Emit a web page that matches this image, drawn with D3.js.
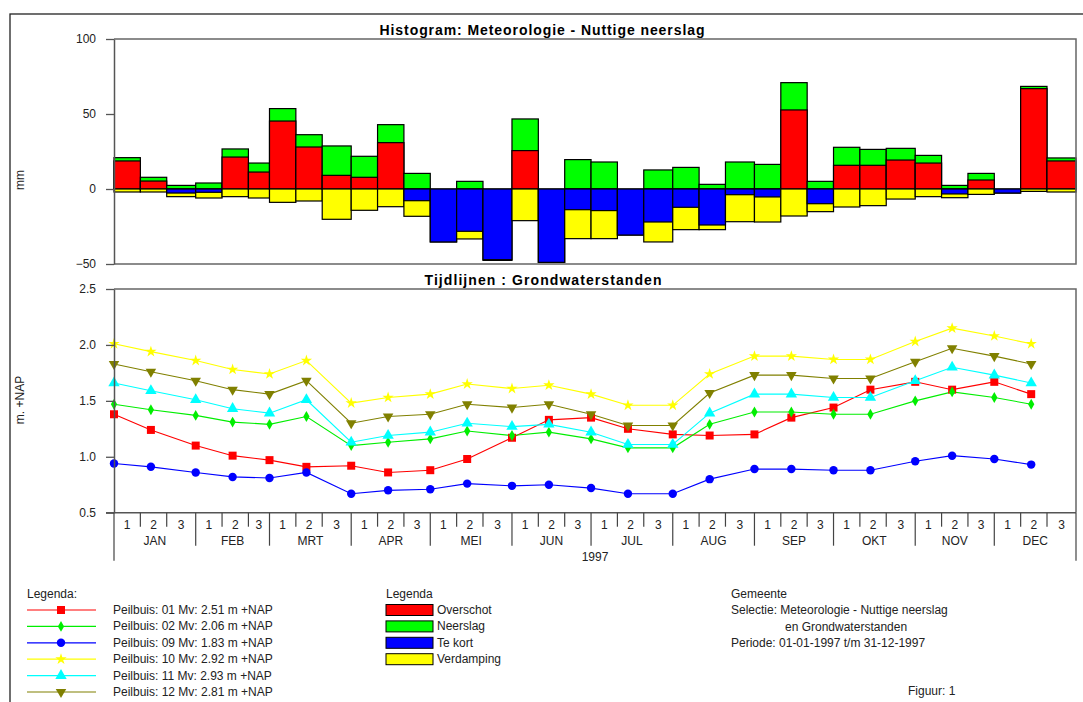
<!DOCTYPE html>
<html><head><meta charset="utf-8">
<script src="https://cdnjs.cloudflare.com/ajax/libs/d3/7.8.5/d3.min.js"></script>
<style>
body{margin:0;background:#fff}
svg{display:block;font-family:"Liberation Sans",Arial,sans-serif}
</style>
</head><body>
<svg id="c" width="1083" height="702"></svg>
<script>
// ---------- data ----------
const months = ["JAN","FEB","MRT","APR","MEI","JUN","JUL","AUG","SEP","OKT","NOV","DEC"];
const decadeLabels = ["1","2","3"];
const yearLabel = "1997";
const histTicks = [100, 50, 0, -50];
const levelTicks = [2.5, 2.0, 1.5, 1.0, 0.5];

// per decade (36): mm
const neerslag   = [20.9,7.8,2.4, 4.0,26.7,17.3, 53.6,36.2,28.7, 21.8,42.9,10.4, 0,5.1,0, 46.7,0,19.6, 18.0,0,12.7, 14.4,3.1,18.0, 16.4,70.9,5.1, 27.8,26.4,27.1, 22.4,2.4,10.4, 0,68.4,20.7];
const overschot  = [18.7,5.3,0, 0,21.3,11.3, 45.3,28.0,9.1, 7.8,30.9,0, 0,0,0, 25.6,0,0, 0,0,0, 0,0,0, 0,52.7,0, 15.8,15.8,19.3, 17.3,0,6.0, 0,66.9,18.7];
const tekort     = [0,0,2.7, 2.2,0,0, 0,0,0, 0,0,7.8, 35.3,28.2,47.1, 0,48.9,13.8, 14.4,30.7,22.0, 12.2,24.0,3.8, 5.3,0,9.8, 0,0,0, 0,3.3,0, 2.7,0,0];
const verdamping = [2.0,2.0,5.1, 6.0,5.1,6.0, 8.9,8.0,20.2, 14.2,11.8,18.2, 35.3,33.3,47.6, 21.1,48.9,33.1, 33.1,30.7,35.3, 27.1,27.1,21.8, 22.0,18.0,15.1, 12.0,11.1,6.7, 5.1,5.8,3.6, 2.7,1.6,2.0];

// groundwater levels, measured 1st and 15th of each month (24): m +NAP
const peilbuis01 = [1.38,1.24,1.10,1.01,0.97,0.91,0.92,0.86,0.88,0.98,1.17,1.33,1.35,1.25,1.20,1.19,1.20,1.35,1.44,1.60,1.67,1.60,1.67,1.56];
const peilbuis02 = [1.47,1.42,1.37,1.31,1.29,1.36,1.10,1.13,1.16,1.23,1.19,1.22,1.16,1.08,1.08,1.29,1.40,1.40,1.38,1.38,1.50,1.58,1.53,1.47];
const peilbuis09 = [0.94,0.91,0.86,0.82,0.81,0.86,0.67,0.70,0.71,0.76,0.74,0.75,0.72,0.67,0.67,0.80,0.89,0.89,0.88,0.88,0.96,1.01,0.98,0.93];
const peilbuis10 = [2.01,1.94,1.86,1.78,1.74,1.86,1.48,1.53,1.56,1.65,1.61,1.64,1.56,1.46,1.46,1.74,1.90,1.90,1.87,1.87,2.03,2.15,2.08,2.01];
const peilbuis11 = [1.66,1.59,1.51,1.43,1.39,1.51,1.13,1.19,1.22,1.30,1.27,1.29,1.22,1.11,1.11,1.39,1.56,1.56,1.53,1.53,1.68,1.80,1.73,1.66];
const peilbuis12 = [1.83,1.76,1.68,1.60,1.56,1.68,1.30,1.36,1.38,1.47,1.44,1.47,1.38,1.28,1.28,1.57,1.73,1.73,1.70,1.70,1.85,1.97,1.90,1.83];

const seriesLabels = ["Peilbuis: 01 Mv: 2.51 m +NAP","Peilbuis: 02 Mv: 2.06 m +NAP","Peilbuis: 09 Mv: 1.83 m +NAP","Peilbuis: 10 Mv: 2.92 m +NAP","Peilbuis: 11 Mv: 2.93 m +NAP","Peilbuis: 12 Mv: 2.81 m +NAP"];
const histLabels = ["Overschot","Neerslag","Te kort","Verdamping"];

// ---------- styling ----------
const seriesStyle = [
  {color:"#ff0000", sym:d3.symbolSquare, size:64, rot:0},
  {color:"#00ee00", sym:d3.symbolDiamond, size:34, rot:0},
  {color:"#0000ff", sym:d3.symbolCircle, size:56, rot:0},
  {color:"#ffff00", sym:d3.symbolStar, size:40, rot:0},
  {color:"#00ffff", sym:d3.symbolTriangle, size:56, rot:0},
  {color:"#808000", sym:d3.symbolTriangle, size:48, rot:180}
];
const histColors = {overschot:"#ff0000", neerslag:"#00ff00", tekort:"#0000ff", verdamping:"#ffff00"};

const svg = d3.select("#c");
svg.append("rect").attr("width",1083).attr("height",702).attr("fill","#fff");
// outer frame
svg.append("rect").attr("x",10).attr("y",14).attr("width",1200).attr("height",800)
  .attr("fill","none").attr("stroke","#222").attr("stroke-width",1.3);

const X0 = 114, X1 = 1076;
const x = d3.scaleTime().domain([new Date(1997,0,1), new Date(1998,0,1)]).range([X0, X1]);
const yH = d3.scaleLinear().domain([-50,100]).range([264,39]);
const yL = d3.scaleLinear().domain([0.5,2.5]).range([512.7,289]);

function decadeRange(i){
  const m = Math.floor(i/3), d = i%3;
  const s = new Date(1997, m, 1+10*d);
  const e = d<2 ? new Date(1997, m, 11+10*d) : new Date(1997, m+1, 1);
  return [s,e];
}
const decades = d3.range(36).map(i => {
  const [s,e] = decadeRange(i);
  return {i, s, e, n:neerslag[i], o:overschot[i], t:tekort[i], v:verdamping[i]};
});

// ---------- histogram ----------
const gH = svg.append("g");
function bar(d, v, color){
  if (!v) return;
  const y0 = yH(0), y1 = yH(v);
  gH.append("rect")
    .attr("x", x(d.s)).attr("width", x(d.e)-x(d.s))
    .attr("y", Math.min(y0,y1)).attr("height", Math.abs(y1-y0))
    .attr("fill", color).attr("stroke","#000").attr("stroke-width",1.2);
}
decades.forEach(d => {
  bar(d, d.n, histColors.neerslag);
  bar(d, d.o, histColors.overschot);
  bar(d, -d.v, histColors.verdamping);
  bar(d, -d.t, histColors.tekort);
});
// frame top chart
svg.append("path").attr("d",`M${X0},39H${X1}V264H${X0}`).attr("fill","none").attr("stroke","#666").attr("stroke-width",1.5);
const axH = svg.append("g").attr("transform",`translate(${X0},0)`)
  .call(d3.axisLeft(yH).tickValues(histTicks).tickSize(8).tickSizeOuter(0).tickPadding(10));
styleAxis(axH);

svg.append("text").attr("x",542).attr("y",35).attr("text-anchor","middle")
  .attr("font-size",14).attr("font-weight","bold").attr("textLength",325)
  .text("Histogram: Meteorologie - Nuttige neerslag");
svg.append("text").attr("transform","translate(24,180) rotate(-90)").attr("text-anchor","middle")
  .attr("font-size",12).attr("fill","#222").text("mm");

// ---------- line chart ----------
const dates = d3.range(24).map(j => new Date(1997, Math.floor(j/2), j%2 ? 15 : 1));
const series = [peilbuis01, peilbuis02, peilbuis09, peilbuis10, peilbuis11, peilbuis12];
svg.append("path").attr("d",`M${X0},289H${X1}V512.7`).attr("fill","none").attr("stroke","#666").attr("stroke-width",1.5);
const line = d3.line().x((v,j)=>x(dates[j])).y(v=>yL(v));
const gL = svg.append("g");
series.forEach((vals,k) => {
  const st = seriesStyle[k];
  gL.append("path").attr("d", line(vals)).attr("fill","none").attr("stroke",st.color).attr("stroke-width",1.1);
});
series.forEach((vals,k) => {
  const st = seriesStyle[k];
  const sym = d3.symbol().type(st.sym).size(st.size);
  gL.selectAll(null).data(vals).join("path")
    .attr("transform",(v,j)=>`translate(${x(dates[j])},${yL(v)}) rotate(${st.rot})`)
    .attr("d", sym).attr("fill", st.color);
});
const axL = svg.append("g").attr("transform",`translate(${X0},0)`)
  .call(d3.axisLeft(yL).tickValues(levelTicks).tickFormat(d3.format(".1f")).tickSize(8).tickSizeOuter(0).tickPadding(10));
styleAxis(axL);
svg.append("text").attr("x",543).attr("y",285).attr("text-anchor","middle")
  .attr("font-size",14).attr("font-weight","bold").attr("textLength",237)
  .text("Tijdlijnen : Grondwaterstanden");
svg.append("text").attr("transform","translate(24,400) rotate(-90)").attr("text-anchor","middle")
  .attr("font-size",12).attr("fill","#222").text("m. +NAP");

function styleAxis(g){
  g.select(".domain").attr("stroke","#555").attr("stroke-width",1.5);
  g.selectAll(".tick line").attr("stroke","#555").attr("stroke-width",1.3);
  g.selectAll(".tick text").attr("font-size",12).attr("fill","#222").attr("font-family","Liberation Sans, Arial, sans-serif");
}

// ---------- time axis ----------
const gX = svg.append("g").attr("stroke","#444").attr("stroke-width",1.2);
const yA = 512.7;
gX.append("line").attr("x1",X0-8).attr("x2",X1).attr("y1",yA).attr("y2",yA).attr("stroke","#555").attr("stroke-width",1.5);
decades.forEach(d => {
  const len = d.i===0 ? 48 : (d.i%3===0 ? 33 : 14);
  gX.append("line").attr("x1",x(d.s)).attr("x2",x(d.s)).attr("y1",yA).attr("y2",yA+len);
});
gX.append("line").attr("x1",X1).attr("x2",X1).attr("y1",yA).attr("y2",yA+48);
const gXt = svg.append("g").attr("font-size",12).attr("fill","#222").attr("text-anchor","middle");
decades.forEach(d => {
  gXt.append("text").attr("x",(x(d.s)+x(d.e))/2).attr("y",529).text(decadeLabels[d.i%3]);
});
months.forEach((m,k) => {
  const s = new Date(1997,k,1), e = new Date(1997,k+1,1);
  gXt.append("text").attr("x",(x(s)+x(e))/2).attr("y",545).text(m);
});
gXt.append("text").attr("x",(X0+X1)/2).attr("y",561).text(yearLabel);

// ---------- legends ----------
const gLeg = svg.append("g").attr("font-size",12).attr("fill","#222");
gLeg.append("text").attr("x",27).attr("y",598).text("Legenda:");
seriesLabels.forEach((lab,k) => {
  const st = seriesStyle[k];
  const yy = 610 + k*16.4;
  gLeg.append("line").attr("x1",27).attr("x2",96).attr("y1",yy).attr("y2",yy).attr("stroke",st.color).attr("stroke-width",1.2);
  gLeg.append("path").attr("transform",`translate(61,${yy}) rotate(${st.rot})`)
    .attr("d", d3.symbol().type(st.sym).size(st.size)()).attr("fill",st.color);
  gLeg.append("text").attr("x",113).attr("y",yy+4).text(lab);
});
gLeg.append("text").attr("x",386).attr("y",598).text("Legenda");
const hc = [histColors.overschot, histColors.neerslag, histColors.tekort, histColors.verdamping];
histLabels.forEach((lab,k) => {
  const yy = 610 + k*16.4;
  gLeg.append("rect").attr("x",386).attr("y",yy-5.5).attr("width",47).attr("height",11)
    .attr("fill",hc[k]).attr("stroke","#000").attr("stroke-width",1);
  gLeg.append("text").attr("x",437).attr("y",yy+4).text(lab);
});
const info = [["Gemeente",731],["Selectie: Meteorologie - Nuttige neerslag",731],["en Grondwaterstanden",785],["Periode: 01-01-1997 t/m 31-12-1997",731]];
info.forEach((r,k) => gLeg.append("text").attr("x",r[1]).attr("y",598+k*16.4).text(r[0]));
gLeg.append("text").attr("x",908).attr("y",695).text("Figuur: 1");
</script>
</body></html>
